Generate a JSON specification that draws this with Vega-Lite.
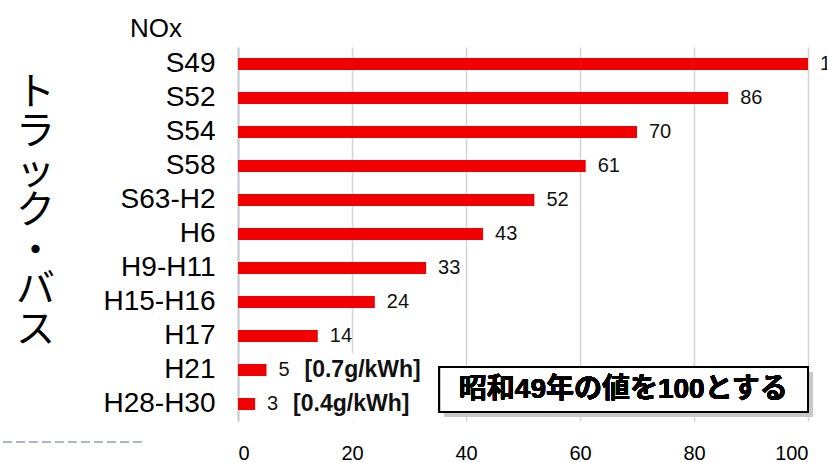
{
  "$schema": "https://vega.github.io/schema/vega-lite/v6.json",
  "autosize": {"type": "none"},
  "width": 570,
  "height": 374,
  "padding": {"left": 238, "top": 47, "right": 19, "bottom": 41},
  "background": "white",
  "title": {"text": "NOx", "anchor": "start", "frame": "group", "dx": -108, "dy": 28, "offset": 12, "baseline": "alphabetic", "fontSize": 26, "fontWeight": "normal", "font": "Liberation Sans", "color": "#000"},
  "config": {
    "view": {"stroke": null},
    "font": "Liberation Sans, Noto Sans CJK JP",
    "text": {"font": "Liberation Sans, Noto Sans CJK JP"}
  },
  "data": {"values": [
    {"era": "S49", "v": 100},
    {"era": "S52", "v": 86},
    {"era": "S54", "v": 70},
    {"era": "S58", "v": 61},
    {"era": "S63-H2", "v": 52},
    {"era": "H6", "v": 43},
    {"era": "H9-H11", "v": 33},
    {"era": "H15-H16", "v": 24},
    {"era": "H17", "v": 14},
    {"era": "H21", "v": 5, "note": "[0.7g/kWh]"},
    {"era": "H28-H30", "v": 3, "note": "[0.4g/kWh]"}
  ]},
  "layer": [
    {
      "mark": {"type": "bar", "size": 12, "color": "#f00000"},
      "encoding": {
        "y": {"field": "era", "type": "nominal", "sort": null,
          "scale": {"paddingInner": 0, "paddingOuter": 0},
          "axis": {
            "title": ["ト", "ラ", "ッ", "ク", "・", "バ", "ス"],
            "titleAngle": 0, "titleAlign": "center", "titleBaseline": "top",
            "titleX": -203, "titleY": 26, "titleFontSize": 39, "titleLineHeight": 39.5,
            "titleFontWeight": "normal", "titleFont": "Noto Sans CJK JP", "titleColor": "#000",
            "labelFontSize": 28, "labelColor": "#000", "labelFont": "Liberation Sans",
            "labelPadding": 23, "ticks": false, "domainColor": "#c4ccd6", "domainWidth": 2, "grid": false
          }},
        "x": {"field": "v", "type": "quantitative",
          "scale": {"domain": [0, 100], "nice": false},
          "axis": {"title": null, "values": [0, 20, 40, 60, 80, 100], "labelFontSize": 20, "labelColor": "#000",
            "labelFont": "Liberation Sans", "labelPadding": 22, "ticks": false, "domain": false,
            "grid": true, "gridColor": "#d4d4d4", "gridWidth": 1.5}}
      }
    },
    {
      "transform": [{"filter": "datum.note != null"}],
      "mark": {"type": "rect", "color": "white"},
      "encoding": {
        "y": {"field": "era", "type": "nominal", "sort": null},
        "x": {"datum": 9, "type": "quantitative"},
        "x2": {"datum": 33}
      }
    },
    {
      "mark": {"type": "text", "align": "left", "baseline": "middle", "dx": 12, "fontSize": 20, "color": "#111"},
      "encoding": {
        "y": {"field": "era", "type": "nominal", "sort": null},
        "x": {"field": "v", "type": "quantitative"},
        "text": {"field": "v"}
      }
    },
    {
      "transform": [{"filter": "datum.note != null"}],
      "mark": {"type": "text", "align": "left", "baseline": "middle", "dx": 38, "fontSize": 23, "fontWeight": "bold", "color": "#111"},
      "encoding": {
        "y": {"field": "era", "type": "nominal", "sort": null},
        "x": {"field": "v", "type": "quantitative"},
        "text": {"field": "note"}
      }
    },
    {
      "mark": {"type": "rect", "color": "#c8c8c8", "xOffset": 5, "x2Offset": 5, "yOffset": 2, "y2Offset": 13},
      "encoding": {
        "x": {"datum": 35.3, "type": "quantitative"},
        "x2": {"datum": 100},
        "y": {"datum": "H21", "type": "nominal"},
        "y2": {"datum": "H28-H30"}
      }
    },
    {
      "mark": {"type": "rect", "fill": "white", "stroke": "#000", "strokeWidth": 2, "yOffset": -3, "y2Offset": 8},
      "encoding": {
        "x": {"datum": 35.3, "type": "quantitative"},
        "x2": {"datum": 100},
        "y": {"datum": "H21", "type": "nominal"},
        "y2": {"datum": "H28-H30"}
      }
    },
    {
      "mark": {"type": "text", "align": "center", "baseline": "middle", "dy": 20, "fontSize": 28, "fontWeight": "bold", "color": "#000"},
      "encoding": {
        "x": {"datum": 67.6, "type": "quantitative"},
        "y": {"datum": "H21", "type": "nominal"},
        "text": {"value": "昭和49年の値を100とする"}
      }
    },
    {
      "mark": {"type": "rule", "color": "#a5b8cc", "strokeWidth": 2, "strokeDash": [8, 5], "yOffset": 38},
      "encoding": {
        "x": {"datum": -41.2, "type": "quantitative"},
        "x2": {"datum": -16.7},
        "y": {"datum": "H28-H30", "type": "nominal"}
      }
    }
  ]
}
